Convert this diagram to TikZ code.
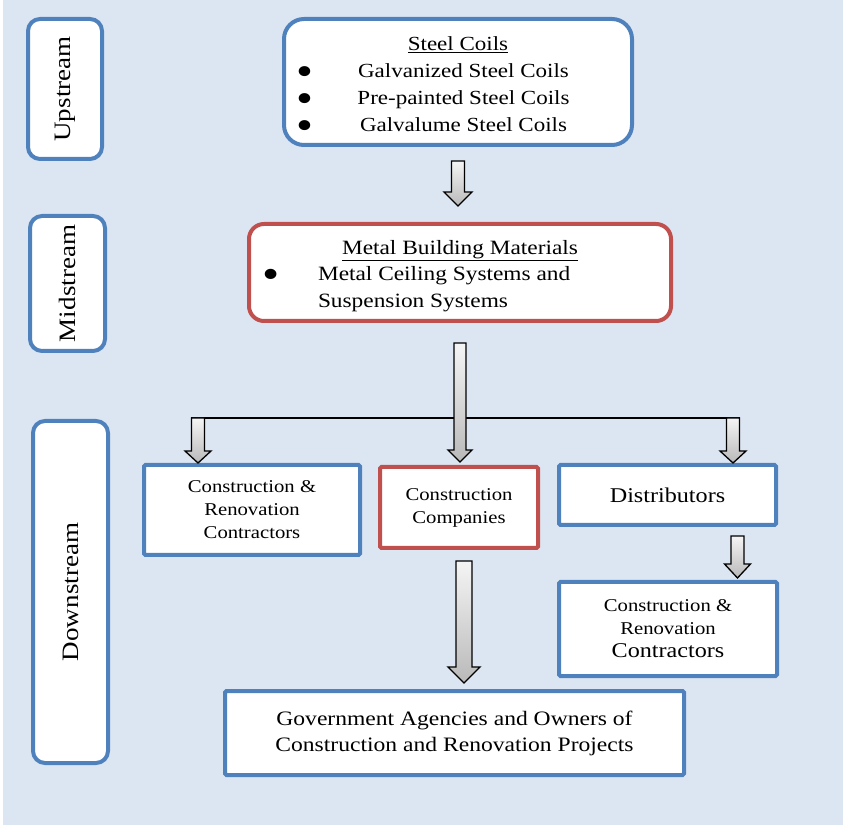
\documentclass[tikz,border=0pt]{standalone}
\usepackage{fontspec}
\setmainfont[FakeStretch=1.15]{Liberation Serif}
\usepackage{array}
\usepackage{graphicx}
\usetikzlibrary{calc, positioning}

\definecolor{chainblue}{HTML}{4F81BD}
\definecolor{chainred}{HTML}{C0504D}
\definecolor{chainbg}{HTML}{DCE6F2}

\newcommand{\bigdot}{\smash{\raisebox{-7.5pt}{\scalebox{2.1}{\textbullet}}}}
% vertical block arrow: start, tip, half shaft, half head, head length
\newcommand{\blockarrow}[5]{%
  \draw[barrow] let \p1=#1, \p2=#2 in
    (\x1-#3,\y1) -- (\x1+#3,\y1) -- (\x1+#3,\y2+#5) -- (\x1+#4,\y2+#5)
    -- (\x1,\y2) -- (\x1-#4,\y2+#5) -- (\x1-#3,\y2+#5) -- cycle;}

\begin{document}
\begin{tikzpicture}[x=1pt, y=1pt,
    stage/.style={draw=chainblue, line width=4pt, fill=white, rounded corners=12pt,
                  rotate=90, font=\fontsize{23.5}{26}\selectfont},
    tier/.style={draw=chainblue, line width=4pt, fill=white, rounded corners=20pt,
                 inner sep=0pt},
    box/.style={draw=chainblue, line width=4pt, fill=white, rounded corners=1.5pt,
                align=center, font=\fontsize{18}{23}\selectfont},
    redbox/.style={box, draw=chainred},
    barrow/.style={draw=black, line width=1.3pt, top color=gray!8,
                   bottom color=gray!55, line join=miter}
  ]
    \useasboundingbox (0,0) rectangle (843,825);
    \fill[chainbg] (3,0) rectangle (843,825);

    % stream labels
    \node[stage, minimum width=140pt, minimum height=74pt] (up) at (65,736) {Upstream};
    \node[stage, minimum width=135pt, minimum height=75pt] (mid) at (67.5,541.5) {Midstream};
    \node[stage, minimum width=342pt, minimum height=75pt] (down) at (70.5,233) {Downstream};

    % upstream
    \node[tier, minimum width=348pt, minimum height=126pt,
          font=\fontsize{20}{27}\selectfont] (coils) at (458,743) {%
      \begin{tabular}{@{}p{57pt}@{}>{\centering\arraybackslash}p{220pt}@{}p{46pt}@{}}
        \multicolumn{3}{@{}c@{}}{\rule{0pt}{27pt}\underline{Steel Coils}}\\
        \bigdot & Galvanized Steel Coils & \\
        \bigdot & Pre-painted Steel Coils & \\
        \bigdot & Galvalume Steel Coils & \\
      \end{tabular}};

    % midstream
    \node[tier, draw=chainred, rounded corners=15pt, minimum width=422pt,
          minimum height=97pt, font=\fontsize{20.3}{26.5}\selectfont] (mbm) at (460,552.5) {%
      \begin{tabular}{@{}p{56pt}@{}p{253pt}@{}p{87pt}@{}}
        \multicolumn{3}{@{}c@{}}{\rule{0pt}{24.5pt}\underline{Metal Building Materials}}\\
        \bigdot & Metal Ceiling Systems and & \\
                & Suspension Systems & \\
      \end{tabular}};

    % downstream
    \node[box, minimum width=216pt, minimum height=90pt] (crc) at (252,315)
      {Construction \&\\Renovation\\Contractors};
    \node[redbox, minimum width=158pt, minimum height=81pt] (cc) at (459,317.5)
      {Construction\\Companies};
    \node[box, minimum width=217pt, minimum height=60pt,
          font=\fontsize{21}{24}\selectfont] (dist) at (667.5,330) {Distributors};
    \node[box, minimum width=218pt, minimum height=94pt] (crc2) at (668,196)
      {Construction \&\\Renovation\\{\fontsize{21}{26}\selectfont Contractors}};
    \node[box, minimum width=459pt, minimum height=84pt,
          font=\fontsize{20.5}{26}\selectfont] (gov) at (454.5,92)
      {Government Agencies and Owners of\\Construction and Renovation Projects};

    % connectors
    \coordinate (splitL) at (198,407);
    \coordinate (splitR) at (733,407);
    \draw[line width=1.5pt] ([xshift=-7pt]splitL) -- ([xshift=7pt]splitR);

    \blockarrow{([yshift=-14pt]coils.south)}{([yshift=16pt]mbm.north)}{6.5pt}{14pt}{14pt}
    \blockarrow{([yshift=-20pt]mbm.south)}{([yshift=3pt]cc.north)}{6pt}{12pt}{12pt}
    \blockarrow{(splitL)}{(splitL |- crc.north)}{6.5pt}{13pt}{12pt}
    \blockarrow{(splitR)}{(splitR |- dist.north)}{6.5pt}{13pt}{12pt}
    \blockarrow{([xshift=70pt,yshift=-9pt]dist.south)}{([yshift=2pt]crc2.north)}{6.5pt}{13pt}{14pt}
    \blockarrow{([xshift=5pt,yshift=-11pt]cc.south)}{([yshift=6pt]gov.north)}{8pt}{16pt}{16pt}
  \end{tikzpicture}
\end{document}
